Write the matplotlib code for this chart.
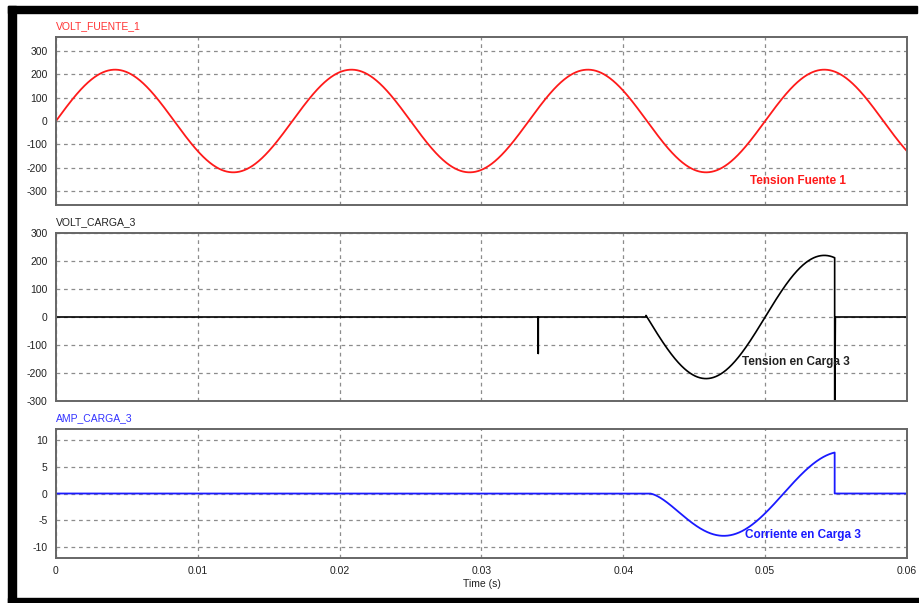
import numpy as np
import matplotlib.pyplot as plt
from matplotlib.patches import Rectangle

plt.rcParams['font.family'] = ['Liberation Sans', 'DejaVu Sans']
plt.rcParams['axes.unicode_minus'] = False

# readings from the picture
SRC_AMP = 220.0          # V, peak of source voltage
SRC_FREQ = 60.0          # Hz
T_END = 0.06

SPIKE_T = 0.0340         # short negative spike on the load voltage
SPIKE_V = -130.0
COND_START = 0.0416      # load starts following the source
COND_END = 0.0549        # switch opens
V_DROP_BOTTOM = -400.0   # off-scale drop at the switch opening

I_AMP = 7.8              # A, peak of load current
I_LAG_DEG = 28.0         # current lag behind voltage
I_START = 0.0419

x_ticks = [0, 0.01, 0.02, 0.03, 0.04, 0.05, 0.06]
x_labels = ['0', '0.01', '0.02', '0.03', '0.04', '0.05', '0.06']
v_ticks = [-300, -200, -100, 0, 100, 200, 300]
i_ticks = [-10, -5, 0, 5, 10]

# time base
t = np.linspace(0, T_END, 6001)
w = 2 * np.pi * SRC_FREQ
v_src = SRC_AMP * np.sin(w * t)

# load voltage
v_load = np.where((t >= COND_START) & (t <= COND_END), v_src, 0.0)
t_load = np.concatenate([t[t < SPIKE_T], [SPIKE_T, SPIKE_T, SPIKE_T],
                         t[(t > SPIKE_T) & (t <= COND_END)],
                         [COND_END, COND_END + 0.00005], t[t > COND_END + 0.00005]])
v_load = np.concatenate([v_load[t < SPIKE_T], [0.0, SPIKE_V, 0.0],
                         v_load[(t > SPIKE_T) & (t <= COND_END)],
                         [V_DROP_BOTTOM, 0.0], v_load[t > COND_END + 0.00005]])

# load current (lagging, starts from zero)
phi = np.deg2rad(I_LAG_DEG)
tau = np.tan(phi) / w
on = (t >= I_START) & (t <= COND_END)
i_on = I_AMP * (np.sin(w * t - phi) - np.sin(w * I_START - phi) * np.exp(-(t - I_START) / tau))
i_load = np.where(on, i_on, 0.0)
t_cur = np.concatenate([t[t <= COND_END], [COND_END], t[t > COND_END]])
i_load = np.concatenate([i_load[t <= COND_END], [0.0], i_load[t > COND_END]])

fig = plt.figure(figsize=(9.2, 6.03), dpi=100)
W, H = 920.0, 603.0

def add_ax(top, bottom):
    ax = fig.add_axes([56 / W, 1 - bottom / H, (907 - 56) / W, (bottom - top) / H])
    ax.set_xlim(0, T_END)
    ax.grid(True, color='#8c8c8c', linestyle=(0, (3, 3)), linewidth=0.9)
    for s in ax.spines.values():
        s.set_color('#666666')
        s.set_linewidth(1.4)
    ax.tick_params(length=0, labelsize=7.5, colors='#222222', pad=6)
    ax.set_xticks(x_ticks)
    return ax

ax1 = add_ax(37, 205)
ax1.plot(t, v_src, color='#ff1a1a', lw=1.3)
ax1.set_ylim(-360, 360)
ax1.set_yticks(v_ticks)
ax1.set_xticklabels([])
ax1.text(0.0489, -256, 'Tension Fuente 1', color='#ff1a1a', fontsize=8.5,
         fontweight='bold', ha='left', va='center')

ax2 = add_ax(233, 401)
ax2.plot(t_load, v_load, color='black', lw=1.2)
ax2.set_ylim(-300, 300)
ax2.set_yticks(v_ticks)
ax2.set_xticklabels([])
ax2.text(0.0484, -162, 'Tension en Carga 3', color='#222222', fontsize=8.5,
         fontweight='bold', ha='left', va='center')

ax3 = add_ax(429, 558)
ax3.plot(t_cur, i_load, color='#1a1aff', lw=1.3)
ax3.set_ylim(-12, 12)
ax3.set_yticks(i_ticks)
ax3.set_xticklabels(x_labels)
ax3.set_xlabel('Time (s)', fontsize=7.5, color='#222222', labelpad=2)
ax3.text(0.0486, -7.8, 'Corriente en Carga 3', color='#1a1aff', fontsize=8.5,
         fontweight='bold', ha='left', va='center')

# panel titles
fig.text(56 / W, 1 - 26 / H, 'VOLT_FUENTE_1', color='#ff3333', fontsize=7.5, va='center')
fig.text(56 / W, 1 - 222 / H, 'VOLT_CARGA_3', color='#222222', fontsize=7.5, va='center')
fig.text(56 / W, 1 - 418 / H, 'AMP_CARGA_3', color='#3333ff', fontsize=7.5, va='center')

# black frame (left, top, bottom)
for x0, y0, x1, y1 in [(8, 6, 16, 603), (8, 6, 917, 13), (8, 598, 920, 603)]:
    fig.patches.append(Rectangle((x0 / W, 1 - y1 / H), (x1 - x0) / W, (y1 - y0) / H,
                                 transform=fig.transFigure, color='black', zorder=10))

fig.savefig('out.png', dpi=100)
